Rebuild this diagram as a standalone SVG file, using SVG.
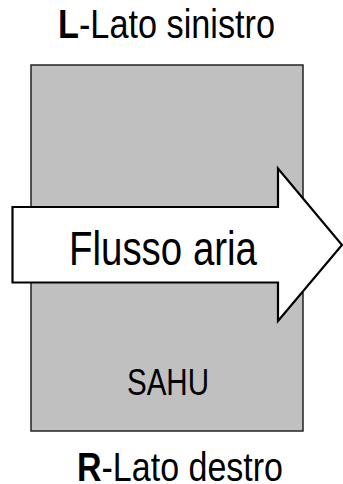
<svg xmlns="http://www.w3.org/2000/svg" width="343" height="484" viewBox="0 0 343 484">
<style>
text{font-family:"Liberation Sans",Arial,sans-serif;fill:#000}
.b{font-weight:bold}
</style>
<rect width="343" height="484" fill="#fff"/>
<g id="unit">
<rect x="31" y="65" width="272" height="366" fill="#c0c0c0" stroke="#222" stroke-width="1.5"/>
<text x="127" y="395" font-size="37" textLength="82" lengthAdjust="spacingAndGlyphs">SAHU</text>
</g>
<g id="connectors">
<g id="flow">
<polygon points="12.5,207 278,207 278,168.5 342,245 278,321 278,282.5 12.5,282.5" fill="#fff" stroke="#000" stroke-width="2.2" stroke-linejoin="miter"/>
<text x="69" y="265" font-size="48" textLength="188" lengthAdjust="spacingAndGlyphs">Flusso aria</text>
</g>
</g>
<g id="left-label">
<text x="58" y="37.5" font-size="40" textLength="217" lengthAdjust="spacingAndGlyphs"><tspan class="b">L</tspan>-Lato sinistro</text>
</g>
<g id="right-label">
<text x="77" y="480.5" font-size="40" textLength="206" lengthAdjust="spacingAndGlyphs"><tspan class="b">R</tspan>-Lato destro</text>
</g>
</svg>
